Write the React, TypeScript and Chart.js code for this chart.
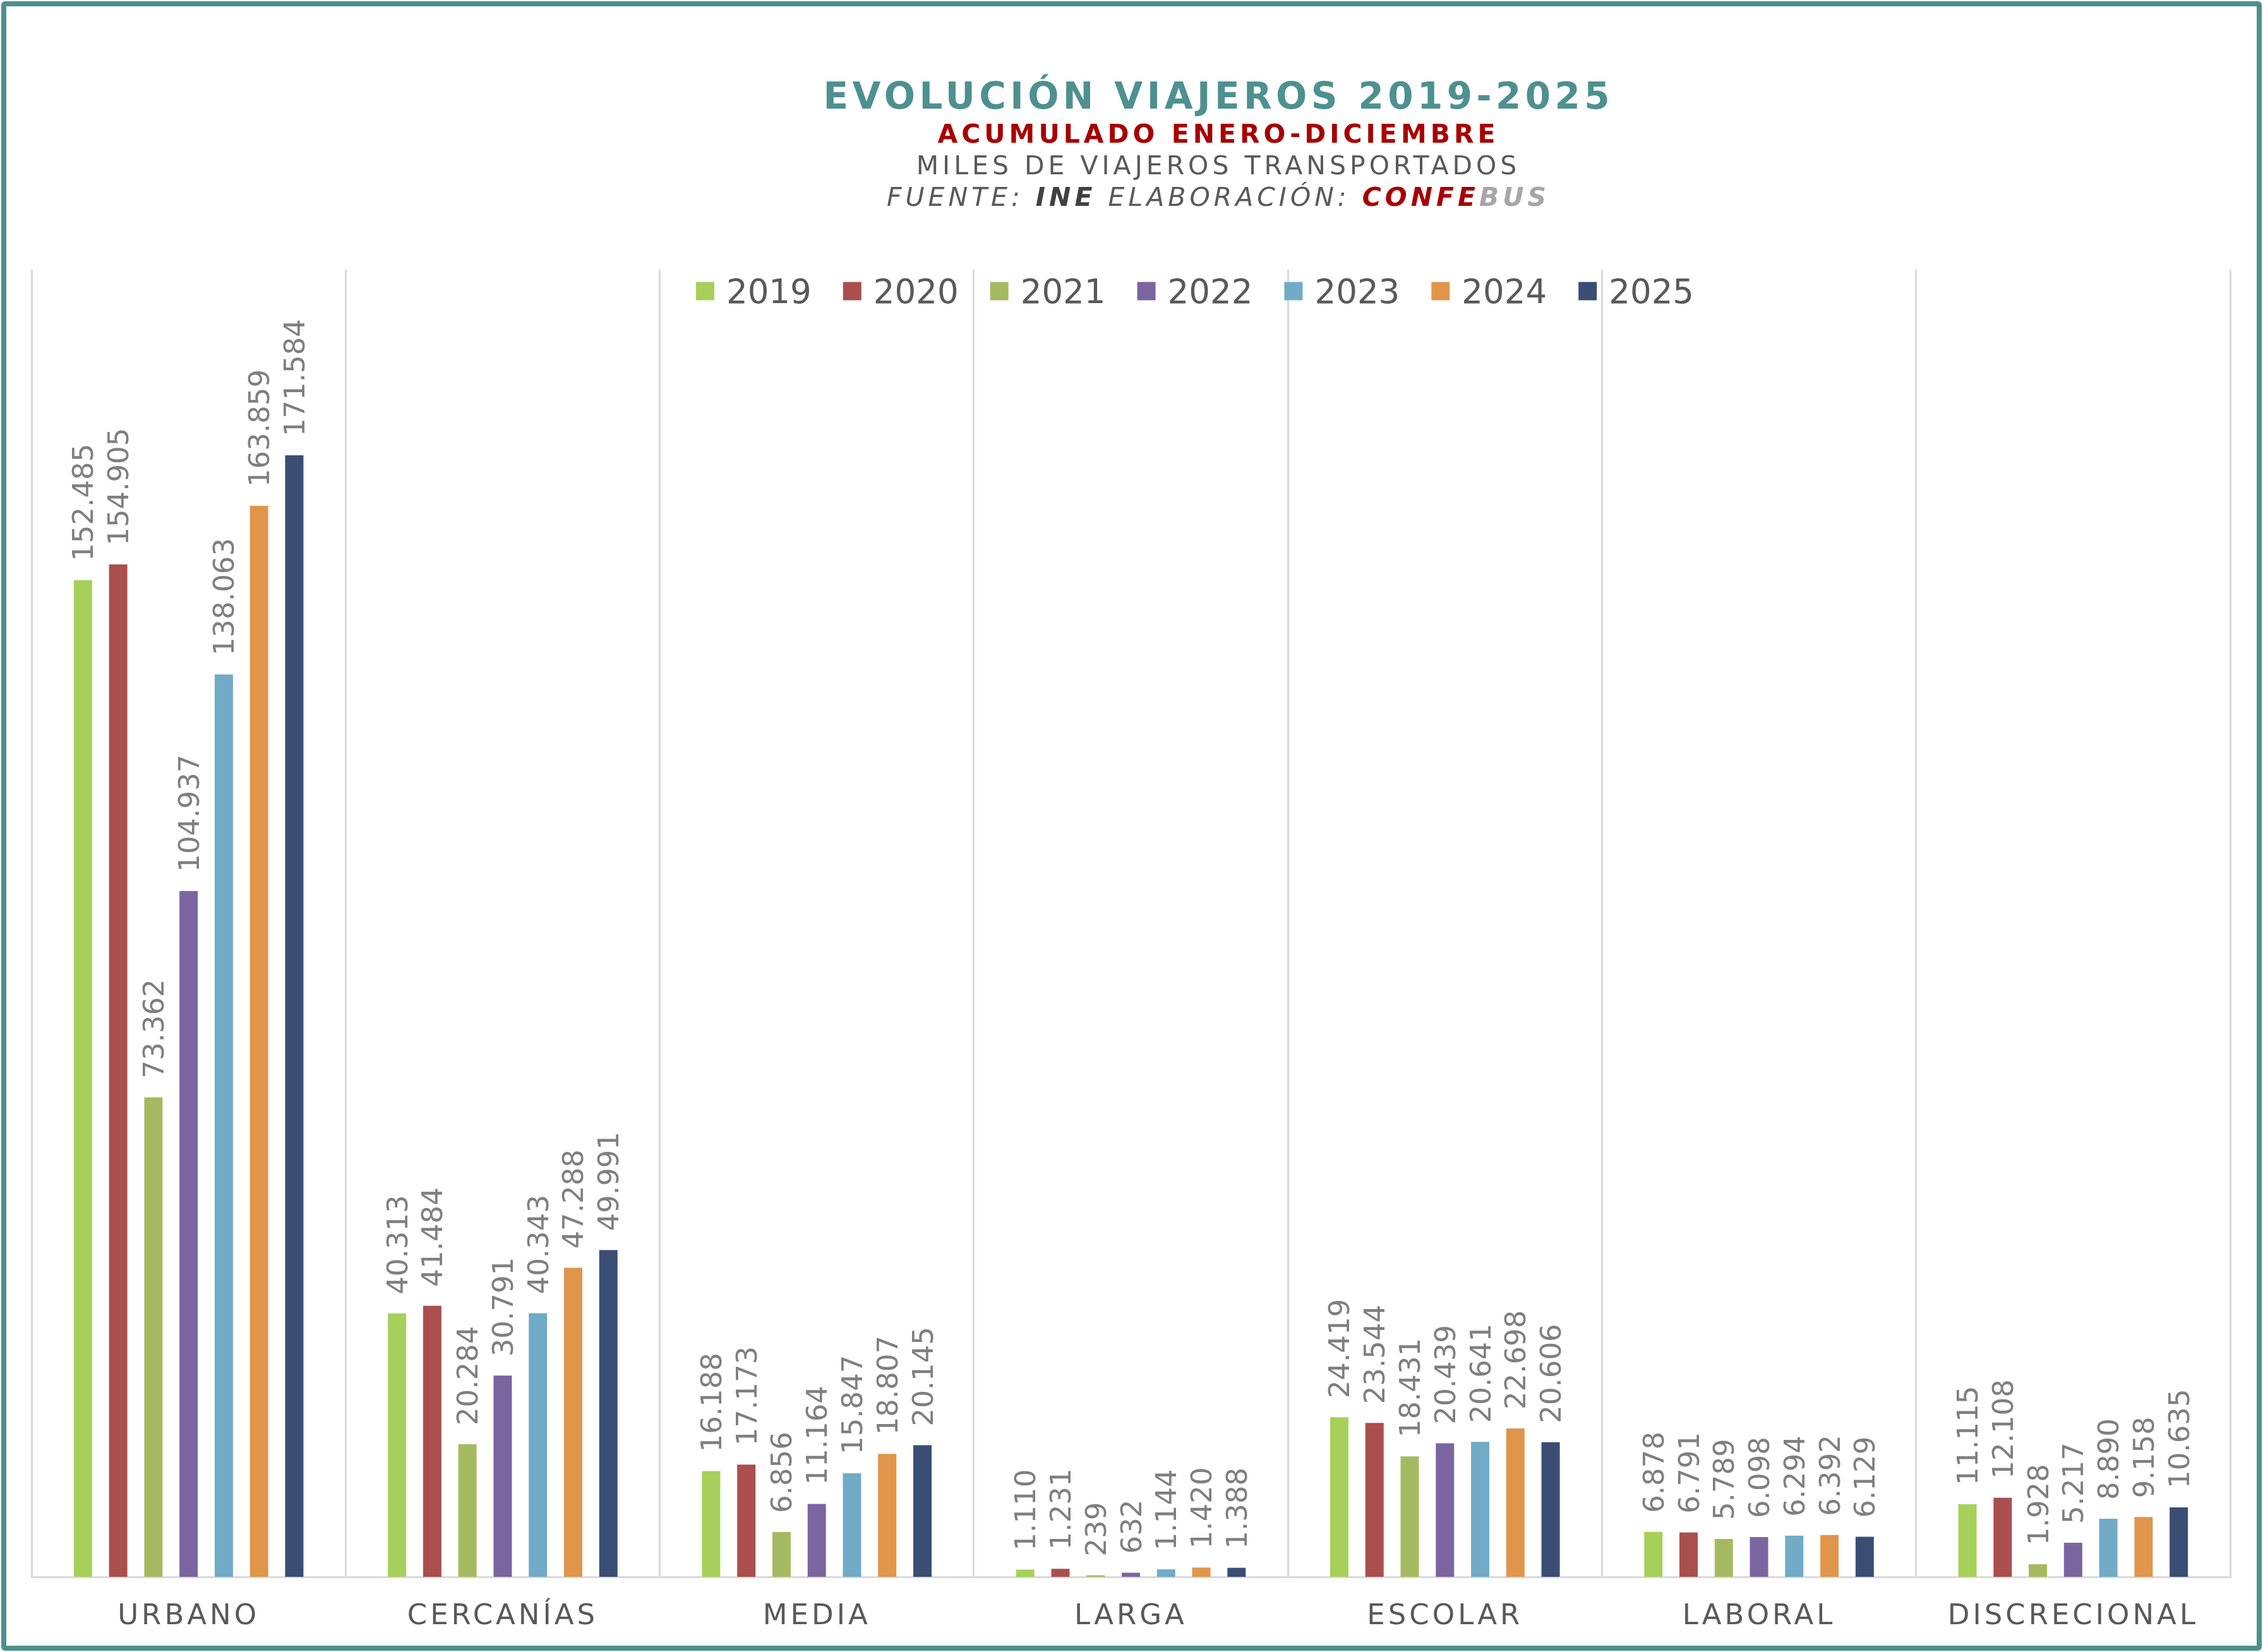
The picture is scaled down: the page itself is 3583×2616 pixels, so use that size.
import React, { useEffect, useRef } from "react";
import { Chart, registerables } from "chart.js";

Chart.register(...registerables);

// ---- DATA ----
const categories = ["URBANO", "CERCANÍAS", "MEDIA", "LARGA", "ESCOLAR", "LABORAL", "DISCRECIONAL"];
const years = ["2019", "2020", "2021", "2022", "2023", "2024", "2025"];
const v2019 = [152485, 40313, 16188, 1110, 24419, 6878, 11115];
const v2020 = [154905, 41484, 17173, 1231, 23544, 6791, 12108];
const v2021 = [73362, 20284, 6856, 239, 18431, 5789, 1928];
const v2022 = [104937, 30791, 11164, 632, 20439, 6098, 5217];
const v2023 = [138063, 40343, 15847, 1144, 20641, 6294, 8890];
const v2024 = [163859, 47288, 18807, 1420, 22698, 6392, 9158];
const v2025 = [171584, 49991, 20145, 1388, 20606, 6129, 10635];
const seriesValues = [v2019, v2020, v2021, v2022, v2023, v2024, v2025];
const seriesColors = ["#A6D05A", "#AA4F4D", "#A5BA60", "#7B65A1", "#71ABC7", "#E0954B", "#3A4E74"];
const yMax = 200000;

const FONT = '"DejaVu Sans", Verdana, sans-serif';

function fmt(v: number): string {
  return String(v).replace(/\B(?=(\d{3})+(?!\d))/g, ".");
}

const labelPlugin = {
  id: "barLabels",
  beforeDraw(chart: any) {
    chart.ctx.letterSpacing = "5px";
  },
  beforeDatasetsDraw(chart: any) {
    chart.ctx.letterSpacing = "0px";
  },
  afterDatasetsDraw(chart: any) {
    const ctx = chart.ctx;
    ctx.save();
    ctx.letterSpacing = "0px";
    // value labels
    ctx.font = `45px ${FONT}`;
    ctx.fillStyle = "#7F7F7F";
    ctx.textAlign = "left";
    ctx.textBaseline = "alphabetic";
    chart.data.datasets.forEach((ds: any, i: number) => {
      const meta = chart.getDatasetMeta(i);
      meta.data.forEach((bar: any, j: number) => {
        ctx.save();
        ctx.translate(bar.x, bar.y - 30);
        ctx.rotate(-Math.PI / 2);
        ctx.fillText(fmt(ds.data[j]), 0, 16);
        ctx.restore();
      });
    });
    // legend
    const lf = 53;
    ctx.font = `${lf}px ${FONT}`;
    const box = 29;
    const gap = 19;
    const itemGap = 50;
    const widths = chart.data.datasets.map((ds: any) => box + gap + ctx.measureText(ds.label).width);
    const total = widths.reduce((a: number, b: number) => a + b, 0) + itemGap * (widths.length - 1);
    let x = 1892 - total / 2;
    const cy = 461;
    chart.data.datasets.forEach((ds: any, i: number) => {
      ctx.fillStyle = ds.backgroundColor;
      ctx.fillRect(x, cy - box / 2, box, box);
      ctx.fillStyle = "#595959";
      ctx.fillText(ds.label, x + box + gap, cy + 0.365 * lf);
      x += widths[i] + itemGap;
    });
    ctx.restore();
  },
};

export default function App() {
  const ref = useRef<HTMLCanvasElement | null>(null);

  useEffect(() => {
    if (!ref.current) return;
    const chart = new Chart(ref.current, {
      type: "bar",
      data: {
        labels: categories,
        datasets: years.map((y, i) => ({
          label: y,
          data: seriesValues[i],
          backgroundColor: seriesColors[i],
          borderWidth: 0,
          categoryPercentage: 0.785,
          barPercentage: 0.52,
        })),
      },
      options: {
        responsive: false,
        animation: false,
        devicePixelRatio: 1,
        layout: { padding: { left: 50, right: 52, top: 427, bottom: 0 } },
        plugins: {
          legend: { display: false },
          title: { display: false },
          tooltip: { enabled: false },
        },
        scales: {
          x: {
            grid: { display: true, color: "#D9D9D9", lineWidth: 3, drawTicks: false, offset: true },
            border: { display: true, color: "#D9D9D9", width: 3 },
            ticks: {
              color: "#595959",
              font: { family: FONT, size: 45 },
              padding: 36,
              maxRotation: 0,
              autoSkip: false,
            },
            afterFit: (scale: any) => {
              scale.height = 119;
            },
          },
          y: {
            display: false,
            min: 0,
            max: yMax,
          },
        },
      },
      plugins: [labelPlugin],
    });
    return () => chart.destroy();
  }, []);

  const lineStyle = (top: number, size: number, spacing: number): React.CSSProperties => ({
    position: "absolute",
    left: 1926,
    top,
    transform: "translateX(-50%)",
    whiteSpace: "nowrap",
    fontFamily: FONT,
    fontSize: size,
    lineHeight: `${size}px`,
    letterSpacing: spacing,
    paddingLeft: spacing,
  });

  return (
    <div style={{ position: "absolute", left: 0, top: 0, width: 3583, height: 2616, overflow: "hidden", background: "#FFFFFF" }}>
      <canvas ref={ref} width={3583} height={2616} style={{ position: "absolute", left: 0, top: 0, width: 3583, height: 2616 }} />
      <div style={{ ...lineStyle(123, 58, 6.4), color: "#4E9090", fontWeight: "bold" }}>EVOLUCIÓN VIAJEROS 2019-2025</div>
      <div style={{ ...lineStyle(192, 41, 6), color: "#A80000", fontWeight: "bold" }}>ACUMULADO ENERO-DICIEMBRE</div>
      <div style={{ ...lineStyle(242, 41, 6), color: "#595959" }}>MILES DE VIAJEROS TRANSPORTADOS</div>
      <div style={{ ...lineStyle(292, 41, 6), color: "#595959", fontStyle: "italic" }}>
        FUENTE: <span style={{ fontWeight: "bold", color: "#404040" }}>INE</span> ELABORACIÓN:{" "}
        <span style={{ fontWeight: "bold", color: "#A80000" }}>CONFE</span>
        <span style={{ fontWeight: "bold", color: "#A6A6A6" }}>BUS</span>
      </div>
      <div
        style={{
          position: "absolute",
          left: 2,
          top: 2,
          width: 3579,
          height: 2612,
          border: "8px solid #4E8F8F",
          borderRadius: 6,
          boxSizing: "border-box",
          pointerEvents: "none",
        }}
      />
    </div>
  );
}
